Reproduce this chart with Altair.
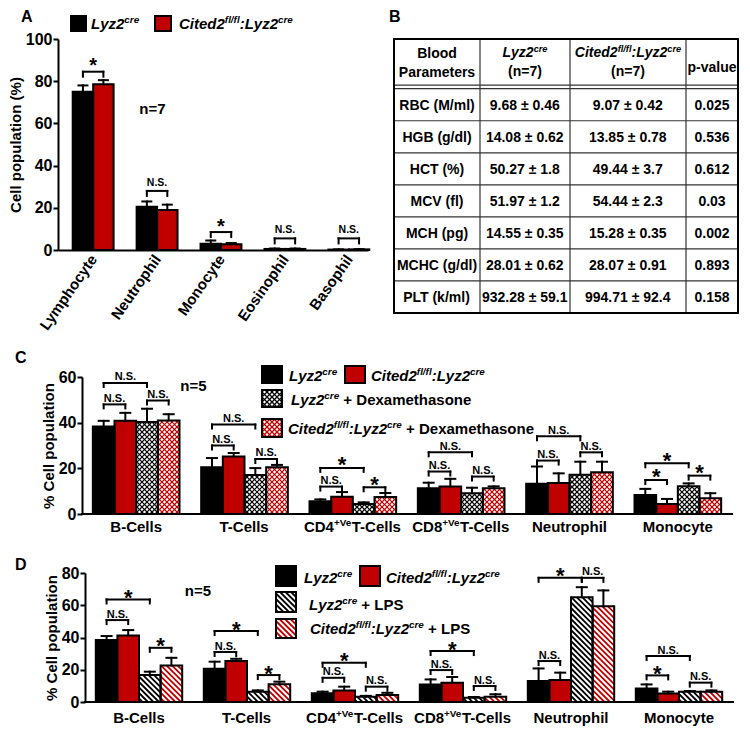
import json
import math
import altair as alt
import pandas as pd

FONT = "Liberation Sans"
RED = "#c00000"
BLACK = "#000000"
WHITE = "#ffffff"
GRIDC = "#333333"

# ---------------- Panel A: blood differential (n=7) ----------------
a_cats = ["Lymphocyte", "Neutrophil", "Monocyte", "Eosinophil", "Basophil"]
a_lyz = [75.0, 20.5, 3.0, 0.5, 0.2]
a_lyz_err = [3.0, 2.5, 1.5, 0.2, 0.1]
a_cited = [78.5, 19.0, 2.7, 0.5, 0.3]
a_cited_err = [2.0, 2.5, 0.6, 0.2, 0.1]
a_sig = ["*", "N.S.", "*", "N.S.", "N.S."]
a_sig_y = [84.5, 28.0, 8.5, 5.5, 5.5]

# ---------------- Panel B: blood parameters table ----------------
b_params = ["RBC (M/ml)", "HGB (g/dl)", "HCT (%)", "MCV (fl)", "MCH (pg)", "MCHC (g/dl)", "PLT (k/ml)"]
b_lyz = ["9.68 ± 0.46", "14.08 ± 0.62", "50.27 ± 1.8", "51.97 ± 1.2", "14.55 ± 0.35", "28.01 ± 0.62", "932.28 ± 59.1"]
b_cited = ["9.07 ± 0.42", "13.85 ± 0.78", "49.44 ± 3.7", "54.44 ± 2.3", "15.28 ± 0.35", "28.07 ± 0.91", "994.71 ± 92.4"]
b_pval = ["0.025", "0.536", "0.612", "0.03", "0.002", "0.893", "0.158"]

# ---------------- Panels C / D categories ----------------
cd_cats = [
    [("B-Cells", "n")],
    [("T-Cells", "n")],
    [("CD4", "n"), ("+Ve", "sn"), ("T-Cells", "n")],
    [("CD8", "n"), ("+Ve", "sn"), ("T-Cells", "n")],
    [("Neutrophil", "n")],
    [("Monocyte", "n")],
]

# ---------------- Panel C: dexamethasone (n=5) ----------------
c_lyz = [38.3, 20.5, 5.6, 11.3, 13.2, 8.3]
c_lyz_err = [2.5, 4.0, 0.8, 2.4, 7.6, 2.7]
c_cited = [40.8, 25.2, 7.6, 12.0, 13.6, 4.4]
c_cited_err = [3.5, 1.5, 2.0, 3.4, 4.2, 2.2]
c_dex_lyz = [40.3, 17.1, 4.4, 9.1, 17.2, 12.1]
c_dex_lyz_err = [5.8, 3.0, 0.7, 2.4, 5.7, 1.3]
c_dex_cited = [41.0, 20.5, 7.5, 11.3, 18.3, 6.9]
c_dex_cited_err = [2.7, 1.0, 1.7, 0.8, 4.6, 2.2]
# (group, bar from, bar to, level, label)
c_brackets = [
    (0, 0, 2, 57.4, "N.S."), (0, 0, 1, 48.0, "N.S."), (0, 2, 3, 49.7, "N.S."),
    (1, 0, 2, 39.2, "N.S."), (1, 0, 1, 30.0, "N.S."), (1, 2, 3, 24.1, "N.S."),
    (2, 0, 2, 20.2, "*"), (2, 0, 1, 12.0, "N.S."), (2, 2, 3, 11.7, "*"),
    (3, 0, 2, 27.0, "N.S."), (3, 0, 1, 18.6, "N.S."), (3, 2, 3, 16.4, "N.S."),
    (4, 0, 2, 34.0, "N.S."), (4, 0, 1, 23.4, "N.S."), (4, 2, 3, 27.0, "N.S."),
    (5, 0, 2, 22.2, "*"), (5, 0, 1, 14.9, "*"), (5, 2, 3, 16.8, "*"),
]

# ---------------- Panel D: LPS (n=5) ----------------
d_lyz = [38.4, 20.6, 5.4, 10.9, 13.0, 8.3]
d_lyz_err = [2.5, 4.4, 1.0, 3.1, 7.8, 2.6]
d_cited = [41.3, 25.4, 7.2, 12.0, 13.6, 5.2]
d_cited_err = [3.3, 1.4, 2.3, 3.5, 4.6, 1.2]
d_lps_lyz = [16.7, 6.4, 3.2, 2.7, 65.0, 6.4]
d_lps_lyz_err = [2.1, 0.8, 0.6, 0.4, 6.2, 0.4]
d_lps_cited = [22.7, 11.0, 4.3, 3.3, 59.4, 6.4]
d_lps_cited_err = [4.7, 1.6, 1.4, 1.5, 9.8, 0.8]
d_brackets = [
    (0, 0, 2, 63.6, "*"), (0, 0, 1, 50.8, "N.S."), (0, 2, 3, 33.6, "*"),
    (1, 0, 2, 44.0, "*"), (1, 0, 1, 31.0, "N.S."), (1, 2, 3, 16.7, "*"),
    (2, 0, 2, 24.3, "*"), (2, 0, 1, 15.0, "N.S."), (2, 2, 3, 9.5, "N.S."),
    (3, 0, 2, 31.6, "*"), (3, 0, 1, 19.8, "N.S."), (3, 2, 3, 9.9, "N.S."),
    (4, 0, 2, 77.0, "*"), (4, 0, 1, 25.4, "N.S."), (4, 2, 3, 77.0, "N.S."),
    (5, 0, 2, 28.5, "N.S."), (5, 0, 1, 16.5, "*"), (5, 2, 3, 12.0, "N.S."),
]

# legend labels (rich text: n normal, i italic, s* superscript)
LBL_LYZ = [("Lyz2", "i"), ("cre", "si")]
LBL_CITED = [("Cited2", "i"), ("fl/fl", "si"), (":Lyz2", "i"), ("cre", "si")]
LBL_DEX = [(" + Dexamethasone", "n")]
LBL_LPS = [(" + LPS", "n")]

# ---------------- text metrics (Arial/Helvetica bold advance widths) ----------------
HB = {" ": 278, "!": 333, "%": 889, "(": 333, ")": 333, "*": 389, "+": 584, ",": 278,
      "-": 333, ".": 278, "/": 278, ":": 333, "=": 584, "±": 584}
for _d in "0123456789":
    HB[_d] = 556
HB.update(dict(zip("ABCDEFGHIJKLMNOPQRSTUVWXYZ",
                   [722, 722, 722, 722, 667, 611, 778, 722, 278, 556, 722, 611, 833,
                    722, 778, 667, 778, 722, 667, 611, 722, 667, 944, 667, 667, 611])))
HB.update(dict(zip("abcdefghijklmnopqrstuvwxyz",
                   [556, 611, 556, 611, 556, 333, 611, 611, 278, 278, 556, 278, 889,
                    611, 611, 611, 611, 389, 556, 333, 611, 556, 778, 556, 556, 500])))


def text_w(s, size):
    return sum(HB.get(ch, 556) for ch in s) * size / 1000.0


def hatch_segments(L, R, T, B, kind, step):
    segs = []
    if kind in ("back", "cross"):  # screen y = x + c
        c = math.ceil((T - R) / step) * step
        while c <= B - L:
            xs, xe = max(L, T - c), min(R, B - c)
            if xe - xs > 0.3:
                segs.append((xs, xs + c, xe, xe + c))
            c += step
    if kind in ("fwd", "cross"):  # screen y = c - x
        c = math.ceil((T + L) / step) * step
        while c <= B + R:
            xs, xe = max(L, c - B), min(R, c - T)
            if xe - xs > 0.3:
                segs.append((xs, c - xs, xe, c - xe))
            c += step
    return segs


class Panel:
    """Plot of width W; pixel helpers are relative to the y-axis position (ox px in)."""

    def __init__(self, W, H, xdom, ydom, ox=0.0):
        self.W, self.H, self.ox = W, H, ox
        self.x0, self.x1 = xdom
        self.y0, self.y1 = ydom
        self.rects, self.hatch, self.lines, self.texts = [], [], [], []

    def px(self, x):
        return (x - self.x0) / (self.x1 - self.x0) * self.W - self.ox

    def py(self, y):
        return self.H - (y - self.y0) / (self.y1 - self.y0) * self.H

    def dx(self, p):
        return self.x0 + (p + self.ox) / self.W * (self.x1 - self.x0)

    def dy(self, p):
        return self.y0 + (self.H - p) / self.H * (self.y1 - self.y0)

    def ux(self, p):
        return p / self.W * (self.x1 - self.x0)

    def uy(self, p):
        return p / self.H * (self.y1 - self.y0)

    def line(self, x, y, x2, y2, color=BLACK, w=2.0):
        self.lines.append(dict(x=x, y=y, x2=x2, y2=y2, c=color, w=w))

    def pline(self, ax, ay, bx, by, color=BLACK, w=2.0):
        self.line(self.dx(ax), self.dy(ay), self.dx(bx), self.dy(by), color, w)

    def rect(self, xa, xb, ya, yb, fill, hatch=None, hcolor=BLACK, step=5.0, hw=1.2):
        self.rects.append(dict(x=xa, x2=xb, y=ya, y2=yb, f=fill))
        if hatch:
            L, R = sorted([self.px(xa), self.px(xb)])
            T, B = sorted([self.py(ya), self.py(yb)])
            for (ax, ay, bx, by) in hatch_segments(L, R, T, B, hatch, step):
                self.hatch.append(dict(x=self.dx(ax), y=self.dy(ay), x2=self.dx(bx),
                                       y2=self.dy(by), c=hcolor, w=hw))

    def prect(self, ax, bx, ay, by, fill, hatch=None, hcolor=BLACK, step=5.0, hw=1.2):
        self.rect(self.dx(ax), self.dx(bx), self.dy(ay), self.dy(by), fill, hatch, hcolor, step, hw)

    def text(self, segs, size, px, py, align="left", sup_ratio=0.66):
        sup = size * sup_ratio
        info = []
        for t, k in segs:
            s = sup if k.startswith("s") else size
            info.append((t, k, s, text_w(t, s)))
        total = sum(i[3] for i in info)
        cur = px - total / 2.0 if align == "center" else px
        for t, k, s, w in info:
            stripped = t.lstrip(" ")
            lead = text_w(t[: len(t) - len(stripped)], s)
            yy = py - size * 0.38 if k.startswith("s") else py
            self.texts.append(dict(x=self.dx(cur + lead), y=self.dy(yy), t=stripped, s=s,
                                   it=k.endswith("i")))
            cur += w


def add_bar(p, xa, xb, v, e, fill, hatch=None, hcolor=BLACK, step=5.0, hw=1.2, cap=5.0):
    p.rect(xa, xb, 0, v, fill, hatch, hcolor, step, hw)
    xc = (xa + xb) / 2.0
    p.line(xc, v, xc, v + e)
    p.line(xc - p.ux(cap), v + e, xc + p.ux(cap), v + e)


def add_bracket(p, xa, xb, y, label, tick, ns_gap, star_off, ns_size, star_size):
    p.line(xa, y, xb, y)
    p.line(xa, y, xa, y - p.uy(tick))
    p.line(xb, y, xb, y - p.uy(tick))
    cx = (p.px(xa) + p.px(xb)) / 2.0
    if label == "*":
        p.text([("*", "n")], star_size, cx, p.py(y) + star_off, "center")
    else:
        p.text([(label, "n")], ns_size, cx, p.py(y) - ns_gap, "center")


def build(p, xaxis, yaxis):
    xs = alt.Scale(domain=[p.x0, p.x1], nice=False, zero=False)
    ys = alt.Scale(domain=[p.y0, p.y1], nice=False, zero=False)
    X = alt.X("x:Q", scale=xs, axis=xaxis)
    Y = alt.Y("y:Q", scale=ys, axis=yaxis)
    layers = []
    if p.rects:
        rdf = pd.DataFrame(p.rects)
        layers.append(alt.Chart(rdf).mark_rect(strokeWidth=0).encode(
            x=X, y=Y, x2="x2:Q", y2="y2:Q", color=alt.Color("f:N", scale=None)))
    if p.hatch:
        layers.append(alt.Chart(pd.DataFrame(p.hatch)).mark_rule(strokeCap="butt").encode(
            x=X, y=Y, x2="x2:Q", y2="y2:Q", color=alt.Color("c:N", scale=None),
            strokeWidth=alt.StrokeWidth("w:Q", scale=None)))
    if p.rects:
        layers.append(alt.Chart(rdf).mark_rect(fillOpacity=0, stroke=BLACK, strokeWidth=2).encode(
            x=X, y=Y, x2="x2:Q", y2="y2:Q"))
    if p.lines:
        layers.append(alt.Chart(pd.DataFrame(p.lines)).mark_rule(strokeCap="square").encode(
            x=X, y=Y, x2="x2:Q", y2="y2:Q", color=alt.Color("c:N", scale=None),
            strokeWidth=alt.StrokeWidth("w:Q", scale=None)))
    tdf = pd.DataFrame(p.texts)
    for italic in (False, True):
        sub = tdf[tdf["it"] == italic].drop(columns=["it"])
        if len(sub):
            kw = dict(align="left", baseline="alphabetic", font=FONT, fontWeight="bold", color=BLACK)
            if italic:
                kw["fontStyle"] = "italic"
            layers.append(alt.Chart(sub).mark_text(**kw).encode(
                x=X, y=Y, text="t:N", size=alt.Size("s:Q", scale=None)))
    return alt.layer(*layers).properties(width=p.W, height=p.H)


def y_axis(values, title, lsize, offset=0):
    return alt.Axis(values=values, title=title, grid=False, domainColor=BLACK, domainWidth=2,
                    tickColor=BLACK, tickWidth=2, tickSize=5, labelFont=FONT, labelFontSize=lsize,
                    labelFontWeight="bold", labelColor=BLACK, labelPadding=1, titleFont=FONT,
                    titleFontSize=15, titleFontWeight="bold", titleColor=BLACK, titlePadding=2,
                    offset=offset)


# ======================= Panel A (+ table B drawn beside it) =======================
pa = Panel(310, 211, (-0.55, 4.3), (0, 100))
bwa = 0.32
for i in range(len(a_cats)):
    add_bar(pa, i - bwa, i, a_lyz[i], a_lyz_err[i], BLACK, cap=4.5)
    add_bar(pa, i, i + bwa, a_cited[i], a_cited_err[i], RED, cap=4.5)
    add_bracket(pa, i - bwa / 2, i + bwa / 2, a_sig_y[i], a_sig[i], tick=5, ns_gap=5,
                star_off=0.5, ns_size=10.5, star_size=20)
pa.prect(13, 28, -23, -8, BLACK)
pa.prect(97, 113, -23, -8, RED)
pa.text(LBL_LYZ, 15, 33, -10)
pa.text(LBL_CITED, 15, 121, -10)
pa.text([("A", "n")], 16, -37, -17)
pa.text([("n=7", "n")], 15, 94.5, 75, "center")

# ---- table B (pixel layout relative to panel A's plot origin) ----
TX, TY = 336, 0
col_w = [86, 90, 116, 52]
TW = sum(col_w)
TH = 274
edges = [0]
for w in col_w:
    edges.append(edges[-1] + w)
header_h = 49.7
row_h = (TH - header_h) / len(b_params)
for xe in edges[1:-1]:
    pa.pline(TX + xe, TY, TX + xe, TY + TH, GRIDC, 1.2)
pa.pline(TX, TY + header_h - 3.5, TX + TW, TY + header_h - 3.5, GRIDC, 1.2)
for k in range(len(b_params)):
    yl = TY + header_h + k * row_h
    pa.pline(TX, yl, TX + TW, yl, GRIDC, 1.2)
pa.pline(TX, TY, TX + TW, TY, BLACK, 2)
pa.pline(TX, TY + TH, TX + TW, TY + TH, BLACK, 2)
pa.pline(TX, TY, TX, TY + TH, BLACK, 2)
pa.pline(TX + TW, TY, TX + TW, TY + TH, BLACK, 2)
cxs = [TX + (edges[i] + edges[i + 1]) / 2.0 for i in range(4)]
TF = 14
pa.text([("Blood", "n")], TF, cxs[0], TY + 19, "center")
pa.text([("Parameters", "n")], TF, cxs[0], TY + 38, "center")
pa.text(LBL_LYZ, TF, cxs[1], TY + 18, "center")
pa.text([("(n=7)", "n")], TF, cxs[1], TY + 37, "center")
pa.text(LBL_CITED, TF, cxs[2], TY + 18, "center")
pa.text([("(n=7)", "n")], TF, cxs[2], TY + 37, "center")
pa.text([("p-value", "n")], TF, cxs[3], TY + 33, "center")
for k in range(len(b_params)):
    base = TY + header_h + (k + 0.5) * row_h + 5
    for ci, col in enumerate([b_params, b_lyz, b_cited, b_pval]):
        pa.text([(col[k], "n")], TF, cxs[ci], base, "center")
pa.text([("B", "n")], 16, TX - 5, -17)

a_xaxis = alt.Axis(values=list(range(len(a_cats))), labelExpr=json.dumps(a_cats) + "[datum.value]",
                   ticks=False, grid=False, domainColor=BLACK, domainWidth=2, title=None,
                   labelAngle=305, labelAlign="right", labelBaseline="middle", labelPadding=6,
                   labelFont=FONT, labelFontSize=15, labelFontWeight="bold", labelColor=BLACK,
                   labelOverlap=False, labelFlush=False)
chart_a = build(pa, a_xaxis, y_axis([0, 20, 40, 60, 80, 100], "Cell population (%)", 16))


# ======================= Panels C and D =======================
def grouped_panel(p, series, brackets, star_off, lab_base, step, hw):
    bw = 0.2
    offs = [-1.5, -0.5, 0.5, 1.5]
    for g in range(len(cd_cats)):
        for k, (vals, errs, fill, hatch, hcol) in enumerate(series):
            xa = g + (offs[k] - 0.5) * bw
            add_bar(p, xa, xa + bw, vals[g], errs[g], fill, hatch, hcol, step, hw, cap=5)
        p.text(cd_cats[g], 15, p.px(g), p.H + lab_base, "center")
    for g, a, b, yv, lab in brackets:
        add_bracket(p, g + offs[a] * bw, g + offs[b] * bw, yv, lab, tick=4, ns_gap=2.5,
                    star_off=star_off, ns_size=11, star_size=22)
    # x axis baseline, starting at the y axis
    p.pline(0, p.H, p.W - p.ox, p.H, BLACK, 2)


def group_panel_frame(plot_w, H, ymax, ox):
    step = plot_w / 6.0
    W = plot_w + ox
    return Panel(W, H, (-0.5 - ox / step, 5.5), (0, ymax), ox)


OXC = 24
pc = group_panel_frame(650, 137, 60, OXC)
series_c = [
    (c_lyz, c_lyz_err, BLACK, None, BLACK),
    (c_cited, c_cited_err, RED, None, RED),
    (c_dex_lyz, c_dex_lyz_err, WHITE, "cross", BLACK),
    (c_dex_cited, c_dex_cited_err, WHITE, "cross", RED),
]
grouped_panel(pc, series_c, c_brackets, 4.5, 18, 5.0, 1.2)
pc.prect(180, 200, -11, 6, BLACK)
pc.prect(263, 283, -11, 6, RED)
pc.prect(180, 200, 13, 30, WHITE, "cross", BLACK, 5.0, 1.2)
pc.prect(180, 200, 42, 60, WHITE, "cross", RED, 5.0, 1.2)
pc.text(LBL_LYZ, 15, 207, 4)
pc.text(LBL_CITED, 15, 289, 4)
pc.text(LBL_LYZ + LBL_DEX, 15, 209, 28)
pc.text(LBL_CITED + LBL_DEX, 15, 206, 57)
pc.text([("C", "n")], 16, -67, -14)
pc.text([("n=5", "n")], 15, 111.5, 14, "center")
chart_c = build(pc, None, y_axis([0, 20, 40, 60], "% Cell population", 16, -OXC))

OXD = 27
pdd = group_panel_frame(648, 129, 80, OXD)
series_d = [
    (d_lyz, d_lyz_err, BLACK, None, BLACK),
    (d_cited, d_cited_err, RED, None, RED),
    (d_lps_lyz, d_lps_lyz_err, WHITE, "back", BLACK),
    (d_lps_cited, d_lps_cited_err, WHITE, "back", RED),
]
grouped_panel(pdd, series_d, d_brackets, 5.5, 21, 5.5, 1.8)
pdd.prect(191, 211, -7, 13, BLACK)
pdd.prect(275, 295, -7, 13, RED)
pdd.prect(191, 211, 19, 39, WHITE, "back", BLACK, 5.5, 1.8)
pdd.prect(191, 211, 46, 65, WHITE, "back", RED, 5.5, 1.8)
pdd.text(LBL_LYZ, 15, 219, 10)
pdd.text(LBL_CITED, 15, 301, 10)
pdd.text(LBL_LYZ + LBL_LPS, 15, 224, 37)
pdd.text(LBL_CITED + LBL_LPS, 15, 225, 61)
pdd.text([("D", "n")], 16, -70, -3)
pdd.text([("n=5", "n")], 15, 113, 23, "center")
chart_d = build(pdd, None, y_axis([0, 20, 40, 60, 80], "% Cell population", 16, -OXD))

lower = alt.vconcat(chart_c, chart_d, spacing=59, bounds="flush")
chart = alt.vconcat(chart_a, lower, spacing=127, bounds="flush").properties(
    padding=0).configure_view(strokeWidth=0)

chart.save("out.html", embed_options={"renderer": "svg", "actions": False})
